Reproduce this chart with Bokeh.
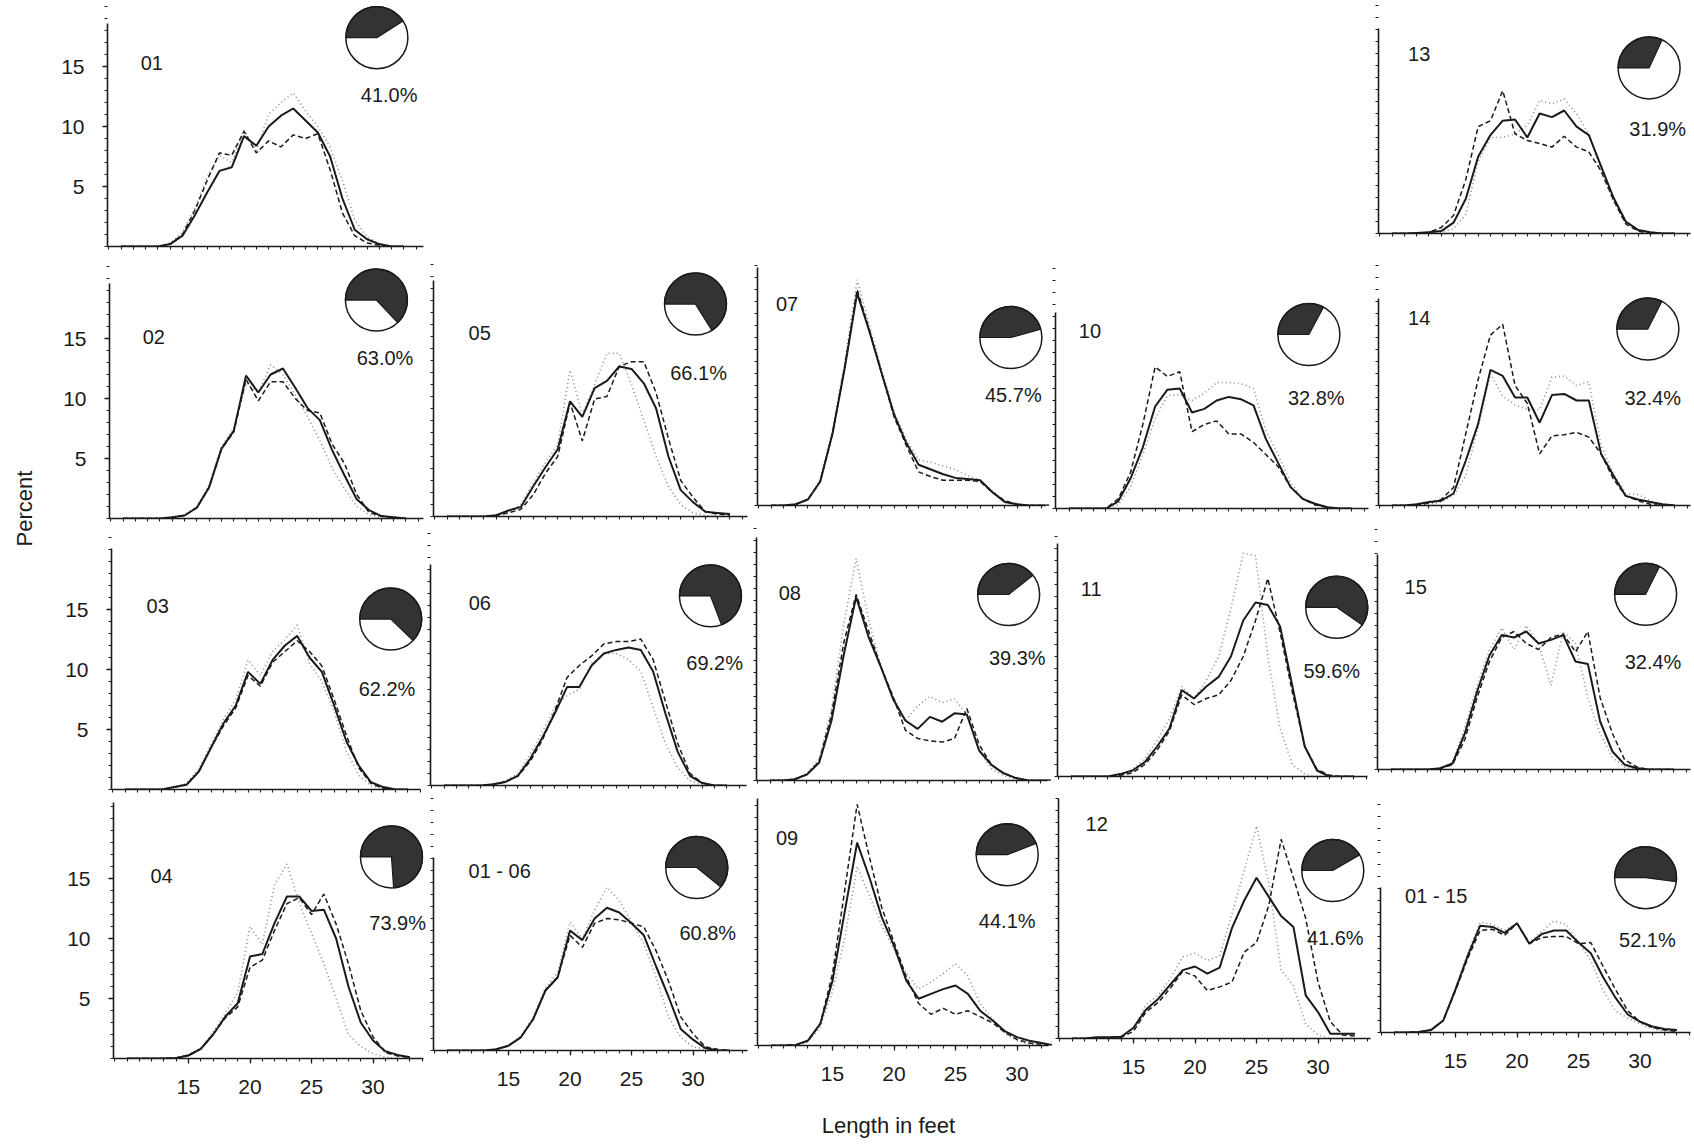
import math
from bokeh.plotting import figure
from bokeh.layouts import row, column, Spacer
from bokeh.models import FixedTicker, ColumnDataSource, Range1d
from bokeh.embed import file_html
from bokeh.resources import INLINE
from bokeh.core.properties import value

FONT = "Liberation Sans"

# ---------------- data (percent of catch per 1-ft length class) ----------------
feet = list(range(10, 34))  # 10 .. 33 ft

p01_solid = [0,0,0,0,0.2,0.9,2.6,4.5,6.3,6.6,9.2,8.4,10.0,10.9,11.5,10.5,9.5,7.5,4.0,1.4,0.6,0.2,0,0]
p01_dash  = [0,0,0,0,0.2,1.0,3.0,5.5,7.8,7.6,9.6,7.8,8.8,8.3,9.3,9.0,9.4,6.4,2.8,0.9,0.3,0.1,0,0]
p01_dot   = [0,0,0,0,0.3,1.2,3.2,5.8,7.6,7.0,9.7,8.0,11.0,12.0,12.8,11.3,10.0,8.3,5.5,2.2,0.8,0.2,0,0]

p02_solid = [0,0,0,0,0.1,0.25,0.9,2.6,5.8,7.3,11.9,10.5,12.0,12.5,10.9,9.2,8.2,5.7,3.6,1.6,0.7,0.2,0.1,0]
p02_dash  = [0,0,0,0,0.1,0.25,0.9,2.6,5.8,7.2,11.6,9.8,11.4,11.4,10.0,9.0,8.8,6.2,4.6,2.0,0.5,0.2,0.1,0]
p02_dot   = [0,0,0,0,0.1,0.3,1.0,2.8,6.0,7.5,11.3,10.5,12.8,12.0,10.3,8.5,6.5,4.2,2.5,1.0,0.3,0.1,0,0]

p03_solid = [0,0,0,0,0.2,0.4,1.5,3.5,5.5,7.0,9.8,8.8,10.8,12.0,12.8,11.0,9.8,7.0,4.0,2.0,0.6,0.2,0,0]
p03_dash  = [0,0,0,0,0.2,0.4,1.5,3.5,5.3,6.8,9.5,8.6,10.6,11.5,12.4,11.5,10.3,7.5,4.5,1.8,0.5,0.1,0,0]
p03_dot   = [0,0,0,0,0.2,0.5,1.7,3.8,5.8,7.5,10.8,9.5,11.5,12.5,13.7,10.5,9.0,6.5,3.2,1.2,0.3,0.1,0,0]

p04_solid = [0,0,0,0,0.05,0.25,0.8,2.0,3.5,4.6,8.5,8.7,11.3,13.5,13.5,12.3,12.4,10.0,6.0,3.0,1.5,0.6,0.3,0.1]
p04_dash  = [0,0,0,0,0.05,0.3,0.8,2.0,3.4,4.3,7.6,8.2,10.7,12.9,13.4,12.0,13.7,11.2,7.9,4.0,1.8,0.5,0.2,0.1]
p04_dot   = [0,0,0,0,0.05,0.3,0.9,2.2,3.8,5.5,11.0,9.5,14.5,16.2,13.0,10.4,7.9,5.0,2.0,1.0,0.4,0.1,0,0]

p05_solid = [0,0,0,0,0.1,0.5,0.8,2.5,4.1,5.6,9.6,8.3,10.7,11.3,12.5,12.3,11.1,9.0,5.0,2.2,1.2,0.4,0.3,0.2]
p05_dash  = [0,0,0,0,0.1,0.3,0.6,1.8,3.6,5.0,9.5,6.3,9.8,10.0,12.5,12.9,12.9,10.3,6.5,3.0,1.6,0.4,0.2,0.1]
p05_dot   = [0,0,0,0,0.1,0.4,1.0,2.8,4.5,6.0,12.2,8.5,11.0,13.6,13.6,11.0,8.0,5.0,2.5,1.0,0.3,0.1,0,0]

p06_solid = [0,0,0,0,0.1,0.3,0.8,2.2,4.0,6.0,8.2,8.2,10.0,11.0,11.3,11.5,11.3,9.5,6.0,2.8,0.8,0.2,0,0]
p06_dash  = [0,0,0,0,0.1,0.3,0.8,2.0,3.8,6.2,9.0,10.0,10.8,11.8,12.0,12.0,12.2,10.5,7.0,3.5,1.0,0.2,0,0]
p06_dot   = [0,0,0,0,0.1,0.4,1.0,2.6,4.5,6.5,7.5,8.0,10.2,11.0,11.0,10.5,9.5,6.5,3.5,1.5,0.4,0.1,0,0]

p07_solid = [0,0,0.1,0.5,2.0,6.0,11.5,17.7,14.5,11.0,7.6,5.2,3.4,3.0,2.6,2.3,2.2,2.1,1.1,0.3,0.1,0,0,0]
p07_dash  = [0,0,0.1,0.5,2.0,6.0,11.6,18.0,14.6,11.0,7.4,5.0,2.8,2.4,2.1,2.1,2.1,2.0,1.1,0.4,0.1,0,0,0]
p07_dot   = [0,0,0.1,0.5,2.1,6.2,12.0,18.8,15.0,11.3,7.8,5.5,3.8,3.6,3.3,3.0,2.5,2.1,1.2,0.4,0.1,0,0,0]

p08_solid = [0,0,0.1,0.5,1.5,5.0,10.5,15.3,12.0,9.5,6.8,5.0,4.3,5.3,4.9,5.6,5.5,2.5,1.3,0.6,0.2,0,0,0]
p08_dash  = [0,0,0.1,0.5,1.6,5.5,11.5,15.5,12.5,9.5,7.0,4.2,3.5,3.3,3.2,3.5,6.0,3.0,1.3,0.6,0.2,0,0,0]
p08_dot   = [0,0,0.1,0.6,1.8,6.0,13.0,18.5,13.5,9.5,7.0,5.0,6.2,7.0,6.5,6.8,5.5,2.5,1.0,0.4,0.1,0,0,0]

p09_solid = [0,0,0.05,0.4,1.8,5.4,11.2,16.9,14.0,10.7,8.3,5.4,3.9,4.3,4.7,5.0,4.3,2.9,2.1,1.2,0.7,0.4,0.2,0]
p09_dash  = [0,0,0.05,0.4,1.8,6.0,13.0,20.1,15.7,11.5,8.6,5.7,3.5,2.6,3.1,2.6,2.9,2.4,1.9,1.1,0.5,0.2,0.1,0]
p09_dot   = [0,0,0.05,0.3,1.5,4.5,9.0,14.9,12.5,10.0,8.0,6.0,4.7,5.3,6.0,6.8,5.8,3.5,2.2,1.0,0.4,0.1,0,0]

p10_solid = [0,0,0,0,0.6,2.5,5.1,8.5,9.9,10.0,8.0,8.3,9.0,9.3,9.1,8.6,5.8,3.8,1.8,0.8,0.4,0.1,0,0]
p10_dash  = [0,0,0,0,0.8,3.0,7.0,11.8,11.0,11.4,6.4,7.0,7.3,6.2,6.2,5.5,4.5,3.5,1.8,0.8,0.3,0.1,0,0]
p10_dot   = [0,0,0,0,0.3,1.8,4.5,7.5,9.4,9.5,9.0,9.6,10.5,10.5,10.4,10.0,6.5,4.5,2.2,0.8,0.3,0.1,0,0]

p11_solid = [0,0,0,0,0.2,0.5,1.2,2.5,4.0,7.2,6.5,7.5,8.3,10.0,13.0,14.5,14.3,12.5,7.5,2.5,0.5,0,0,0]
p11_dash  = [0,0,0,0,0.1,0.3,1.0,2.2,3.8,6.8,6.0,6.5,6.8,8.0,10.0,13.0,16.5,12.0,7.0,2.5,0.6,0.1,0,0]
p11_dot   = [0,0,0,0,0.2,0.6,1.5,3.0,4.8,7.5,6.5,8.0,10.0,14.0,18.6,18.4,10.0,4.0,1.0,0.2,0,0,0,0]

p12_solid = [0,0,0.1,0.1,0.15,0.9,2.4,3.3,4.5,5.7,6.0,5.4,5.9,9.2,11.5,13.4,11.8,10.2,9.3,3.6,2.2,0.4,0.4,0.4]
p12_dash  = [0,0,0,0,0.1,0.6,2.2,3.0,4.2,5.6,5.2,4.0,4.3,4.7,7.2,8.0,11.1,16.6,13.4,10.0,4.7,1.4,0.3,0.2]
p12_dot   = [0,0,0,0,0.2,0.8,2.8,3.6,5.0,6.8,7.1,6.5,6.9,10.4,14.0,17.7,12.9,5.7,4.4,1.2,0.3,0,0,0]

p13_solid = [0,0,0.05,0.1,0.2,0.9,2.9,6.4,8.2,9.4,9.5,8.0,10.0,9.7,10.25,8.9,8.2,5.6,3.0,1.0,0.3,0.1,0,0]
p13_dash  = [0,0,0,0.1,0.5,1.5,4.5,8.9,9.4,11.9,8.3,7.75,7.5,7.2,8.1,7.2,6.8,5.2,2.8,0.8,0.2,0,0,0]
p13_dot   = [0,0,0,0,0.1,0.4,1.6,6.0,8.0,8.0,8.3,9.0,11.1,10.8,11.2,10.0,8.3,5.2,2.7,0.9,0.3,0.1,0,0]

p14_solid = [0,0,0.1,0.3,0.4,1.0,3.75,6.8,11.3,10.8,9.0,9.0,6.9,9.2,9.3,8.75,8.75,4.3,2.5,0.8,0.5,0.3,0.1,0]
p14_dash  = [0,0,0,0.2,0.5,1.5,6.0,10.5,14.2,15.1,10.0,8.5,4.3,5.8,5.9,6.1,5.7,4.3,2.2,0.8,0.4,0.1,0,0]
p14_dot   = [0,0,0,0.1,0.3,0.8,2.5,6.5,11.0,9.1,8.4,8.0,8.0,10.7,10.8,10.0,10.3,5.0,2.6,1.0,0.9,0.4,0,0]

p15_solid = [0,0,0,0,0.1,0.5,3.0,6.5,9.5,11.2,11.0,11.5,10.5,10.8,11.2,9.0,8.8,4.0,1.5,0.4,0.1,0,0,0]
p15_dash  = [0,0,0,0,0.1,0.4,2.5,6.0,9.0,11.0,11.5,10.5,10.0,11.0,11.3,9.8,11.5,6.0,3.0,0.8,0.2,0,0,0]
p15_dot   = [0,0,0,0,0.1,0.6,3.5,7.0,10.0,11.8,10.0,12.0,10.5,7.0,11.5,10.5,6.0,3.0,1.0,0.2,0,0,0,0]

p0106_solid = [0,0,0,0,0.1,0.4,1.1,2.6,5.0,6.1,10.0,9.2,11.0,11.9,11.5,10.6,9.6,7.0,4.5,1.8,0.9,0.2,0,0]
p0106_dash  = [0,0,0,0,0.1,0.4,1.1,2.6,5.0,6.1,9.6,8.6,10.6,11.0,10.9,10.6,10.3,8.3,5.8,2.8,1.4,0.3,0.1,0]
p0106_dot   = [0,0,0,0,0.1,0.4,1.2,2.8,5.2,6.5,10.7,9.3,11.7,13.6,12.5,10.7,8.9,6.1,2.8,1.1,0.3,0.1,0,0]

p0115_solid = [0,0,0.05,0.2,1.0,3.6,6.4,8.9,8.8,8.3,9.1,7.4,8.2,8.5,8.5,7.5,6.6,4.6,2.9,1.5,0.9,0.5,0.3,0.2]
p0115_dash  = [0,0,0.05,0.2,1.0,3.5,6.2,8.5,8.6,8.1,9.1,7.4,7.9,8.0,8.0,7.4,7.5,5.5,3.6,1.8,0.9,0.4,0.2,0.1]
p0115_dot   = [0,0,0.05,0.2,1.0,3.7,6.6,9.2,9.0,8.5,9.1,7.5,8.4,9.3,9.0,7.5,6.0,3.5,1.8,1.2,0.7,0.3,0.1,0]

# share shown in each pie (dark sector), percent
pie_pct = {"01": 41.0, "02": 63.0, "03": 62.2, "04": 73.9, "05": 66.1, "06": 69.2,
           "07": 45.7, "08": 39.3, "09": 44.1, "10": 32.8, "11": 59.6, "12": 41.6,
           "13": 31.9, "14": 32.4, "15": 32.4, "01 - 06": 60.8, "01 - 15": 52.1}

x_tick_labels = [15, 20, 25, 30]
y_tick_labels = [5, 10, 15]

series = {
    "01": (p01_solid, p01_dash, p01_dot), "02": (p02_solid, p02_dash, p02_dot),
    "03": (p03_solid, p03_dash, p03_dot), "04": (p04_solid, p04_dash, p04_dot),
    "05": (p05_solid, p05_dash, p05_dot), "06": (p06_solid, p06_dash, p06_dot),
    "07": (p07_solid, p07_dash, p07_dot), "08": (p08_solid, p08_dash, p08_dot),
    "09": (p09_solid, p09_dash, p09_dot), "10": (p10_solid, p10_dash, p10_dot),
    "11": (p11_solid, p11_dash, p11_dot), "12": (p12_solid, p12_dash, p12_dot),
    "13": (p13_solid, p13_dash, p13_dot), "14": (p14_solid, p14_dash, p14_dot),
    "15": (p15_solid, p15_dash, p15_dot),
    "01 - 06": (p0106_solid, p0106_dash, p0106_dot),
    "01 - 15": (p0115_solid, p0115_dash, p0115_dot),
}

# ---------------- layout (pixels of the page) ----------------
PX_FT = 12.3     # pixels per foot
PX_PCT = 12.0    # pixels per percent
X0 = 8.9         # foot value at each y axis
LEFT_STRIP = 40

# per panel: frame left, x-axis line y, top of y axis (page pixels)
GEOM = {
    "01": (107, 246, 23), "13": (1378, 233, 28),
    "02": (109, 518, 283), "05": (433, 516, 280), "07": (757, 505, 267), "10": (1055, 508, 312), "14": (1378, 505, 298),
    "03": (111, 789, 548), "06": (430, 785, 564), "08": (756, 780, 537), "11": (1057, 776, 543), "15": (1377, 769, 554),
    "04": (113, 1058, 802), "01 - 06": (433, 1050, 857), "09": (757, 1045, 798), "12": (1058, 1038, 798), "01 - 15": (1380, 1032, 887),
}
# annotation placement (in each panel's data units): label, pie centre, percent text
PLACE = {
    "01": ((11.6, 15.3), (30.8, 17.4), (31.8, 12.6)),
    "13": ((11.3, 15.0), (30.9, 13.8), (31.6, 8.75)),
    "02": ((11.6, 15.1), (30.6, 18.2), (31.3, 13.4)),
    "05": ((11.75, 15.3), (30.2, 17.7), (30.45, 12.0)),
    "07": ((10.4, 16.8), (29.5, 14.0), (29.7, 9.2)),
    "10": ((10.8, 14.8), (29.5, 14.5), (30.1, 9.25)),
    "14": ((11.3, 15.6), (30.8, 14.7), (31.2, 9.0)),
    "03": ((11.75, 15.3), (31.6, 14.2), (31.3, 8.4)),
    "06": ((12.0, 15.25), (31.66, 15.8), (32.0, 10.25)),
    "08": ((10.7, 15.6), (29.4, 15.5), (30.1, 10.25)),
    "11": ((10.8, 15.6), (31.6, 14.1), (31.2, 8.8)),
    "15": ((11.1, 15.25), (30.7, 14.6), (31.3, 9.0)),
    "04": ((11.9, 15.25), (31.5, 16.8), (32.0, 11.3)),
    "01 - 06": ((11.75, 15.0), (30.3, 15.25), (31.2, 9.8)),
    "09": ((10.4, 17.3), (29.2, 15.9), (29.2, 10.4)),
    "12": ((11.1, 17.9), (31.2, 14.0), (31.4, 8.4)),
    "01 - 15": ((10.9, 11.4), (30.45, 12.9), (30.6, 7.7)),
}

ROWS = [
    (0, 262, ["01", None, None, None, "13"]),
    (262, 526, ["02", "05", "07", "10", "14"]),
    (526, 798, ["03", "06", "08", "11", "15"]),
    (798, 1110, ["04", "01 - 06", "09", "12", "01 - 15"]),
]
PAGE_W = 1694
PAGE_H = 1144
BORDER = 6
INK = "#1a1a1a"


def make_panel(name, fx0, fx1, rtop, rbot, first_col, bottom_row):
    L, B, T = GEOM[name]
    bl = L - fx0
    w = fx1 - fx0
    h = rbot - rtop
    x1 = X0 + (fx1 - L) / PX_FT
    y1 = (B - rtop) / PX_PCT
    p = figure(width=w, height=h, x_range=Range1d(X0, x1), y_range=Range1d(0, y1),
               min_border_left=bl, min_border_right=0, min_border_top=0,
               min_border_bottom=rbot - B, toolbar_location=None,
               output_backend="svg", outline_line_color=None,
               background_fill_color="white", border_fill_color="white")
    p.grid.visible = False

    xa = p.xaxis[0]
    ya = p.yaxis[0]
    xa.bounds = (X0, min(x1 - 0.3, 35.2))
    ya.bounds = (0, (B - T) / PX_PCT)
    if bottom_row:
        xa.ticker = FixedTicker(ticks=x_tick_labels, minor_ticks=list(range(9, 36)))
        xa.major_label_text_font_size = "21px"
        xa.major_label_standoff = 16
    else:
        xa.ticker = FixedTicker(ticks=[], minor_ticks=list(range(9, 36)))
        xa.major_label_standoff = 0
    if first_col:
        ya.ticker = FixedTicker(ticks=y_tick_labels, minor_ticks=list(range(0, 23)))
        ya.major_label_text_font_size = "21px"
        ya.major_label_standoff = 18
    else:
        ya.ticker = FixedTicker(ticks=[], minor_ticks=list(range(0, 23)))
        ya.major_label_standoff = 0
    for ax in (xa, ya):
        ax.axis_line_color = INK
        ax.axis_line_width = 1.6
        ax.major_tick_line_color = INK
        ax.minor_tick_line_color = INK
        ax.major_tick_line_width = 1.3
        ax.minor_tick_line_width = 1.1
        ax.major_tick_in = 0
        ax.minor_tick_in = 0
        ax.major_tick_out = 5
        ax.minor_tick_out = 3
        ax.major_label_text_font = FONT
        ax.major_label_text_color = INK

    solid, dash, dot = series[name]
    src = ColumnDataSource(dict(x=feet, solid=solid, dash=dash, dot=dot))
    p.line("x", "dot", source=src, line_color="#8c8c8c", line_width=1.6, line_dash="1 3")
    p.line("x", "dash", source=src, line_color=INK, line_width=1.5, line_dash="5 3")
    p.line("x", "solid", source=src, line_color=INK, line_width=2.0)

    (lx, ly), (px, py), (tx, ty) = PLACE[name]
    pct = pie_pct[name]
    pie = ColumnDataSource(dict(x=[px], y=[py],
                                start=[math.pi - 2 * math.pi * pct / 100.0],
                                end=[math.pi]))
    p.scatter("x", "y", source=pie, marker="circle", size=62, fill_color="white",
              line_color=None)
    p.wedge("x", "y", radius=31, radius_units="screen", start_angle="start",
            end_angle="end", direction="anticlock", source=pie,
            fill_color="#333333", line_color=INK, line_width=1.2)
    p.scatter("x", "y", source=pie, marker="circle", size=62, fill_color=None,
              line_color=INK, line_width=1.5)

    p.text(x=[lx], y=[ly], text=[name], text_font=value(FONT), text_font_size="20px",
           text_color=INK, text_align="left", text_baseline="middle")
    p.text(x=[tx], y=[ty], text=["%.1f%%" % pct], text_font=value(FONT),
           text_font_size="20px", text_color=INK, text_align="center",
           text_baseline="middle")
    # wrap in its own column so the row does not align the plot frames
    return column(p, spacing=0)


rows = []
for rtop, rbot, names in ROWS:
    starts = {}
    for i, n in enumerate(names):
        if n is not None:
            starts[i] = LEFT_STRIP if i == 0 else GEOM[n][0] - BORDER
    items = []
    cur = LEFT_STRIP
    for i, n in enumerate(names):
        if n is None:
            continue
        fx0 = starts[i]
        if fx0 > cur:
            items.append(Spacer(width=fx0 - cur, height=rbot - rtop))
        if i == len(names) - 1:
            end = PAGE_W
        elif names[i + 1] is None:
            end = 427
        else:
            end = starts[i + 1]
        items.append(make_panel(n, fx0, end, rtop, rbot, i == 0, rbot == 1110))
        cur = end
    rows.append(row(*items, spacing=0))

# bottom title strip
lab = figure(width=PAGE_W - LEFT_STRIP, height=PAGE_H - 1110,
             x_range=Range1d(LEFT_STRIP, PAGE_W), y_range=Range1d(0, PAGE_H - 1110),
             min_border=0, toolbar_location=None, output_backend="svg",
             outline_line_color=None)
lab.axis.visible = False
lab.grid.visible = False
lab.text(x=[888], y=[19], text=["Length in feet"], text_font=value(FONT),
         text_font_size="22px", text_color=INK, text_align="center",
         text_baseline="middle")
rows.append(lab)

# left title strip
ylab = figure(width=LEFT_STRIP, height=PAGE_H, x_range=Range1d(0, LEFT_STRIP),
              y_range=Range1d(0, PAGE_H), min_border=0, toolbar_location=None,
              output_backend="svg", outline_line_color=None)
ylab.axis.visible = False
ylab.grid.visible = False
ylab.text(x=[24], y=[PAGE_H - 508], text=["Percent"], text_font=value(FONT),
          text_font_size="22px", text_color=INK, text_align="center",
          text_baseline="middle", angle=math.pi / 2)

page = row(ylab, column(*rows, spacing=0), spacing=0)
open("out.html", "w").write(file_html(page, INLINE))
